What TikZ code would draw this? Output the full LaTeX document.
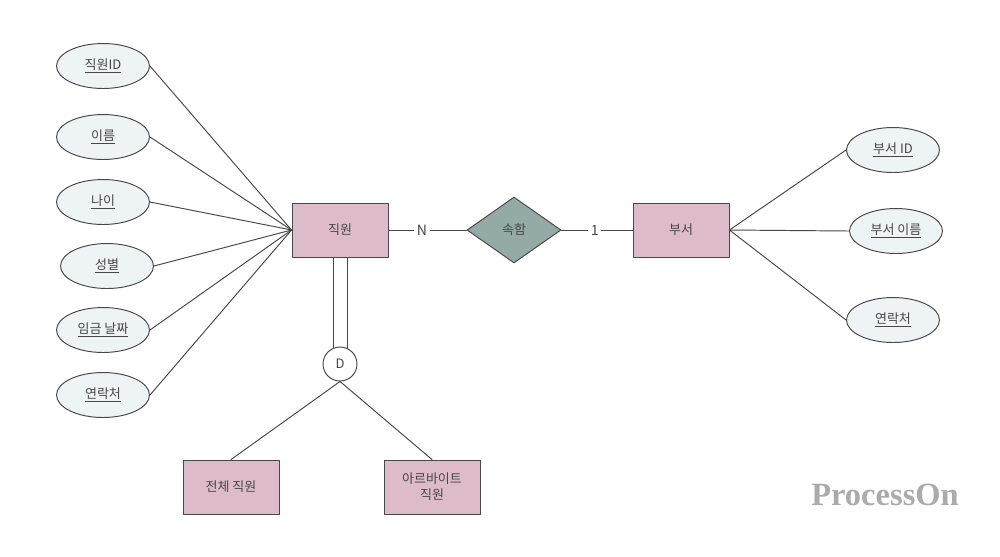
\documentclass[tikz,border=0pt]{standalone}
\usepackage{fontspec}
\setmainfont{Noto Sans CJK KR}
\newfontfamily\wmfont{Liberation Serif}
\usetikzlibrary{shapes.geometric}
\definecolor{entpink}{HTML}{DDBBCB}
\definecolor{attrblue}{HTML}{EEF3F6}
\definecolor{relgreen}{HTML}{94AAA6}
\definecolor{edgegray}{HTML}{484848}
\begin{document}
\begin{tikzpicture}[line cap=round,line join=round,x=0.02cm,y=-0.02cm,
	every node/.style={font=\fontsize{7.4}{9}\selectfont,text=black!72},
	entity/.style={draw=edgegray,fill=entpink,line width=0.55pt,minimum width=1.92cm,minimum height=1.08cm,inner sep=1pt,align=center},
	attr/.style={ellipse,draw=edgegray,fill=attrblue,line width=0.55pt,minimum width=1.86cm,minimum height=0.9cm,inner sep=0pt},
	rel/.style={diamond,draw=edgegray,fill=relgreen,line width=0.55pt,minimum width=1.88cm,minimum height=1.32cm,inner sep=0pt},
	link/.style={draw=edgegray,line width=0.55pt},
	card/.style={fill=white,inner sep=1.5pt,font=\fontsize{8}{9}\selectfont}]
	\useasboundingbox (0,0) rectangle (1000,556);
	% entities
	\node[entity] (emp) at (340,230) {직원};
	\node[entity] (dept) at (681,230) {부서};
	\node[rel] (belong) at (514,230) {속함};
	\node[entity] (full) at (231,487) {전체 직원};
	\node[entity] (part) at (432,487) {아르바이트\\직원};
	\node[circle,draw=edgegray,fill=white,line width=0.55pt,minimum size=0.68cm,inner sep=0pt] (disj) at (340,364) {D};
	% attributes of 직원
	\node[attr] (empid) at (103,66) {\underline{직원ID}};
	\node[attr] (ename) at (103,137) {\underline{이름}};
	\node[attr] (eage) at (103,202) {\underline{나이}};
	\node[attr] (esex) at (107,266) {\underline{성별}};
	\node[attr] (epay) at (103,330) {\underline{임금 날짜}};
	\node[attr] (etel) at (103,395) {\underline{연락처}};
	% attributes of 부서
	\node[attr] (did) at (893,150) {\underline{부서 ID}};
	\node[attr] (dname) at (896,231) {\underline{부서 이름}};
	\node[attr] (dtel) at (893,320) {\underline{연락처}};
	% connectors
	\foreach \a in {empid,ename,eage,esex,epay,etel}
		\draw[link] (\a.east) -- (emp.west);
	\foreach \a in {did,dname,dtel}
		\draw[link] (dept.east) -- (\a.west);
	\draw[link] (emp.east) -- node[card,pos=0.43] {N} (belong.west);
	\draw[link] (belong.east) -- node[card,pos=0.47] {1} (dept.west);
	\draw[link] ([xshift=-0.14cm]emp.south) -- ([xshift=-0.14cm,yshift=-0.03cm]disj.north);
	\draw[link] ([xshift=0.14cm]emp.south) -- ([xshift=0.14cm,yshift=-0.03cm]disj.north);
	\draw[link] (disj.south) -- (full.north);
	\draw[link] (disj.south) -- (part.north);
	% watermark
	\node[text=black!33,font=\wmfont\bfseries\fontsize{18.5}{20}\selectfont] (mark) at (885,495) {ProcessOn};
\end{tikzpicture}
\end{document}
